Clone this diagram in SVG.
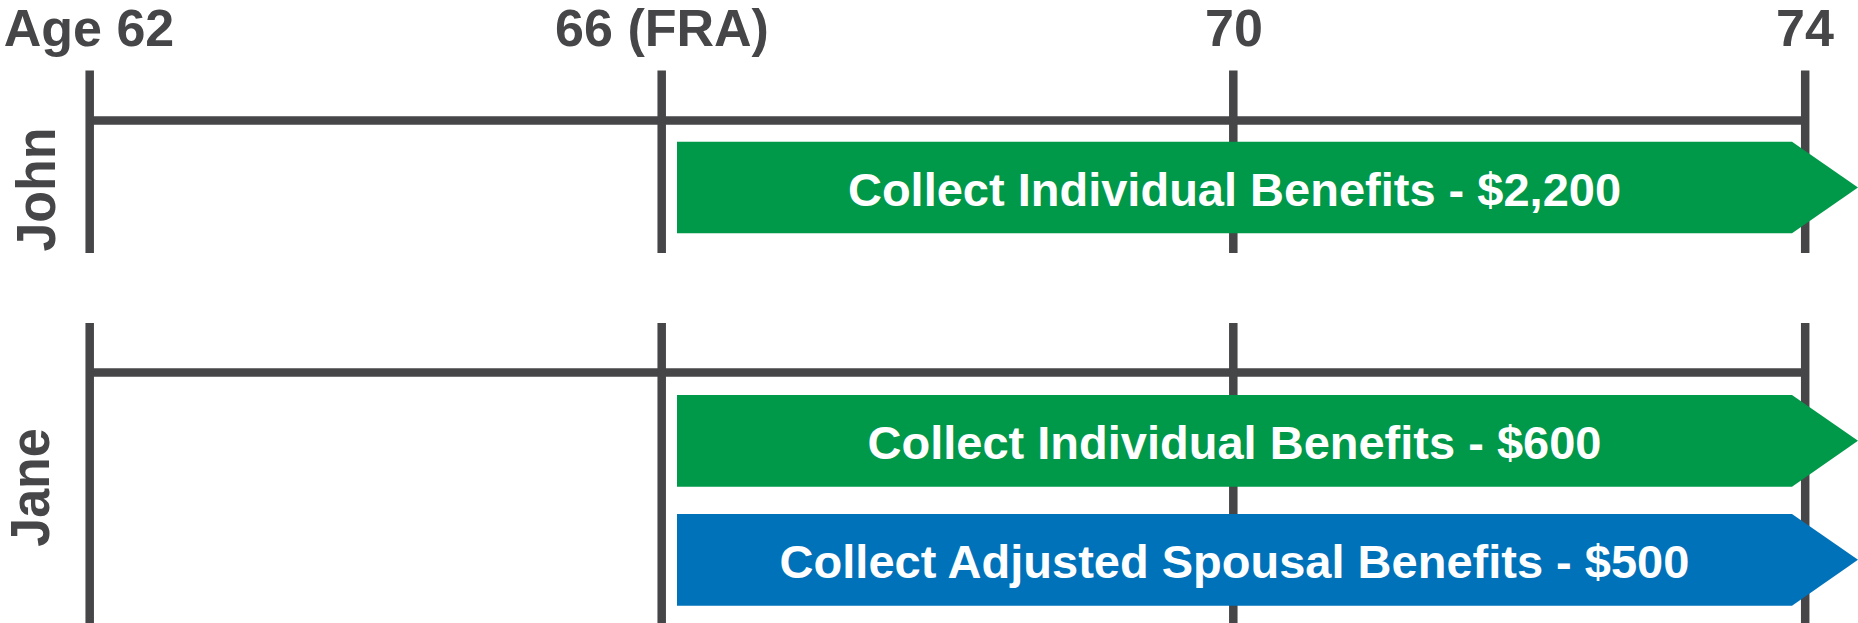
<svg xmlns="http://www.w3.org/2000/svg" width="1858" height="623" viewBox="0 0 1858 623">
  <style>
    .axis { stroke: #464547; stroke-width: 8.5; fill: none; }
    .lbl { font-family: "Liberation Sans", Arial, sans-serif; font-weight: bold; fill: #464547; }
    .age { font-size: 52px; text-anchor: middle; }
    .who { font-size: 52px; text-anchor: middle; }
    .bar-text { font-family: "Liberation Sans", Arial, sans-serif; font-weight: bold; font-size: 47px; fill: #ffffff; text-anchor: middle; }
    .green { fill: #009849; }
    .blue { fill: #0072BA; }
  </style>
  <rect width="1858" height="623" fill="#ffffff"/>

  <g id="age-labels">
    <text class="lbl age" x="89" y="46">Age 62</text>
    <text class="lbl age" x="662" y="46">66 (FRA)</text>
    <text class="lbl age" x="1234" y="46">70</text>
    <text class="lbl age" x="1805" y="46">74</text>
  </g>

  <g id="connectors">
    <g id="john-axis">
      <line class="axis" x1="89.7" y1="120.5" x2="1805" y2="120.5"/>
      <line class="axis" x1="89.7" y1="70.5" x2="89.7" y2="253"/>
      <line class="axis" x1="661.7" y1="70.5" x2="661.7" y2="253"/>
      <line class="axis" x1="1233.3" y1="70.5" x2="1233.3" y2="253"/>
      <line class="axis" x1="1805.2" y1="70.5" x2="1805.2" y2="253"/>
    </g>
    <g id="jane-axis">
      <line class="axis" x1="89.7" y1="372.5" x2="1805" y2="372.5"/>
      <line class="axis" x1="89.7" y1="323" x2="89.7" y2="623"/>
      <line class="axis" x1="661.7" y1="323" x2="661.7" y2="623"/>
      <line class="axis" x1="1233.3" y1="323" x2="1233.3" y2="623"/>
      <line class="axis" x1="1805.2" y1="323" x2="1805.2" y2="623"/>
    </g>
  </g>

  <g id="john-label">
    <text class="lbl who" transform="translate(55,189.5) rotate(-90) scale(1,1.08)" x="0" y="0">John</text>
  </g>
  <g id="jane-label">
    <text class="lbl who" transform="translate(49,487.5) rotate(-90) scale(1,1.08)" x="0" y="0">Jane</text>
  </g>

  <g id="john-individual">
    <polygon class="green" points="677,141.7 1792,141.7 1858,187.5 1792,233.3 677,233.3"/>
    <text class="bar-text" x="1234.5" y="206">Collect Individual Benefits - $2,200</text>
  </g>
  <g id="jane-individual">
    <polygon class="green" points="677,395 1792,395 1858,440.8 1792,486.7 677,486.7"/>
    <text class="bar-text" x="1234.5" y="459.3">Collect Individual Benefits - $600</text>
  </g>
  <g id="jane-spousal">
    <polygon class="blue" points="677,514 1792,514 1858,559.8 1792,605.7 677,605.7"/>
    <text class="bar-text" x="1234.5" y="578.3">Collect Adjusted Spousal Benefits - $500</text>
  </g>
</svg>
